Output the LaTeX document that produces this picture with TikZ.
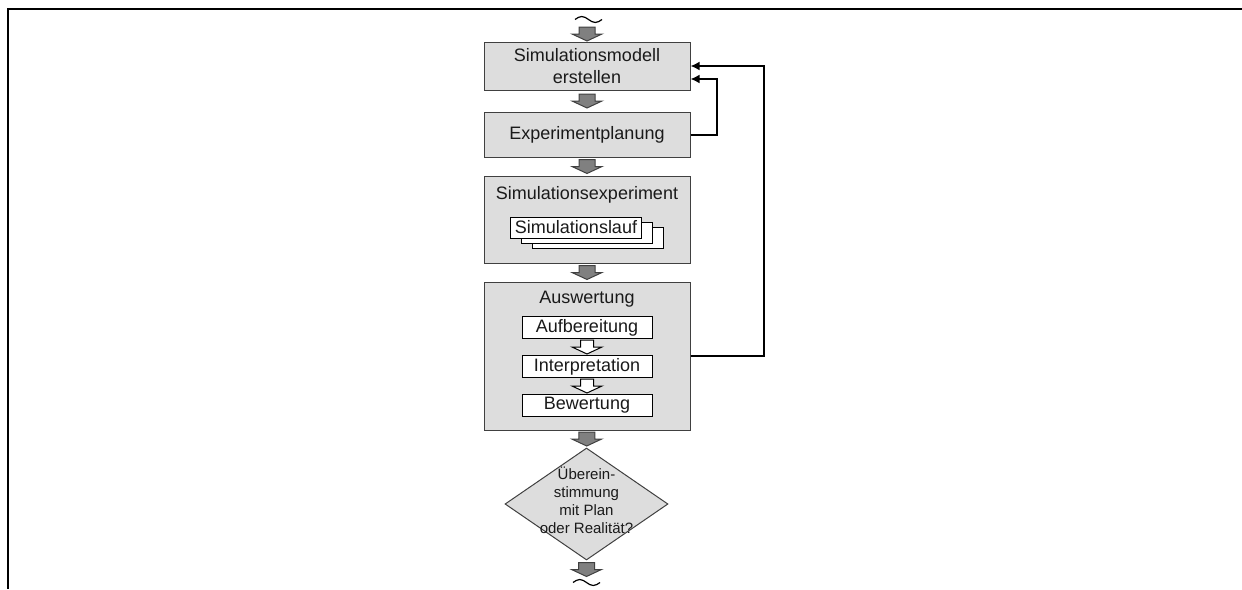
\documentclass[tikz,border=0pt]{standalone}
\usepackage{fontspec}
\setmainfont{Liberation Sans}
\usetikzlibrary{shapes.geometric,calc,arrows.meta}
\definecolor{boxfill}{RGB}{221,221,221}
\definecolor{boxline}{RGB}{64,64,64}
\definecolor{arrowfill}{RGB}{128,128,128}
\definecolor{txt}{RGB}{26,26,26}

\begin{document}
\begin{tikzpicture}[x=0.5pt,y=-0.5pt,
  stage/.style={draw=boxline, fill=boxfill, line width=0.5pt, minimum width=103pt,
    inner sep=0pt, align=center, font=\fontsize{9}{11}\selectfont, text=txt},
  substep/.style={draw=black, fill=white, line width=0.5pt, minimum width=65pt,
    minimum height=11.25pt, inner sep=0pt, font=\fontsize{9}{11}\selectfont, text=txt},
  runbox/.style={draw=black, fill=white, line width=0.5pt, minimum height=10.5pt,
    inner xsep=2pt, inner ysep=0pt, font=\fontsize{9}{11}\selectfont, text=txt},
  title/.style={font=\fontsize{9}{11}\selectfont, text=txt, inner sep=0pt},
  feedback/.style={line width=1pt, -{Latex[length=4.5pt,width=4.5pt]}},
  garrow/.pic={\filldraw[fill=arrowfill, draw=boxline, line width=0.5pt]
    (-8,-7) -- (8,-7) -- (8,0) -- (15,0) -- (0,7) -- (-15,0) -- (-8,0) -- cycle;},
  warrow/.pic={\filldraw[fill=white, draw=black, line width=0.5pt]
    (-6.5,-7) -- (6.5,-7) -- (6.5,0) -- (15,0) -- (0,7) -- (-15,0) -- (-6.5,0) -- cycle;},
  tildemark/.pic={\draw[line width=0.6pt]
    (-13.5,0) sin (-6.75,-3) cos (0,0) sin (6.75,3) cos (13.5,0);}
]
\useasboundingbox (0,0) rectangle (1242,589);

% frame
\draw[line width=1pt, line join=miter] (1242,9) -- (8,9) -- (8,589);

% main stages
\node[stage, minimum height=24pt] (b1) at (587,66) {Simulationsmodell\\erstellen};
\node[stage, minimum height=22.5pt] (b2) at (587,134.5) {Experimentplanung};
\node[stage, minimum height=43.5pt] (b3) at (587,219.5) {};
\node[stage, minimum height=74pt] (b4) at (587,356) {};
\node[shape=diamond, draw=boxline, fill=boxfill, line width=0.5pt,
      minimum width=81.5pt, minimum height=56pt, inner sep=0pt] (d) at (586.5,504) {};

% simulation experiment with stacked runs
\node[title] (sx) at ($(b3.north)+(0,19)$) {Simulationsexperiment};
\coordinate (lc) at ($(b3.north)+(-11,52)$);
\node[runbox] (lauf3) at ($(lc)+(22,10)$) {\phantom{Simulationslauf}};
\node[runbox] (lauf2) at ($(lc)+(11,5)$) {\phantom{Simulationslauf}};
\node[runbox] (lauf) at (lc) {Simulationslauf};

% evaluation with sub steps
\node[title] (aw) at ($(b4.north)+(0,17.5)$) {Auswertung};
\node[substep] (auf) at ($(b4.north)+(0,46)$) {Aufbereitung};
\node[substep] (int) at ($(b4.north)+(0,85)$) {Interpretation};
\node[substep] (bew) at ($(b4.north)+(0,124)$) {Bewertung};
\pic at ($(auf.south)!0.5!(int.north)$) {warrow};
\pic at ($(int.south)!0.5!(bew.north)$) {warrow};

% decision text
\node[font=\fontsize{7.5}{9}\selectfont, align=center, text=txt, inner sep=0pt] (dq)
  at ($(d.center)+(0,-4)$) {Überein-\\stimmung\\mit Plan\\oder Realität?};

% flow arrows
\pic at ($(b1.north)+(1.5,-22)$) {tildemark};
\pic at ($(b1.north)+(0,-7.5)$) {garrow};
\pic at ($(b1.south)!0.5!(b2.north)$) {garrow};
\pic at ($(b2.south)!0.5!(b3.north)$) {garrow};
\pic at ($(b3.south)!0.5!(b4.north)$) {garrow};
\pic at ($(b4.south)!0.5!(d.north)$) {garrow};
\pic at ($(d.south)+(0,9)$) {garrow};
\pic at ($(d.south)+(0,22)$) {tildemark};

% feedback loops
\draw[feedback] (b2.east) -- ++(26,0) |- ($(b1.east)+(0,13)$);
\draw[feedback] (b4.east) -- ++(73,0) |- (b1.east);
\end{tikzpicture}
\end{document}
